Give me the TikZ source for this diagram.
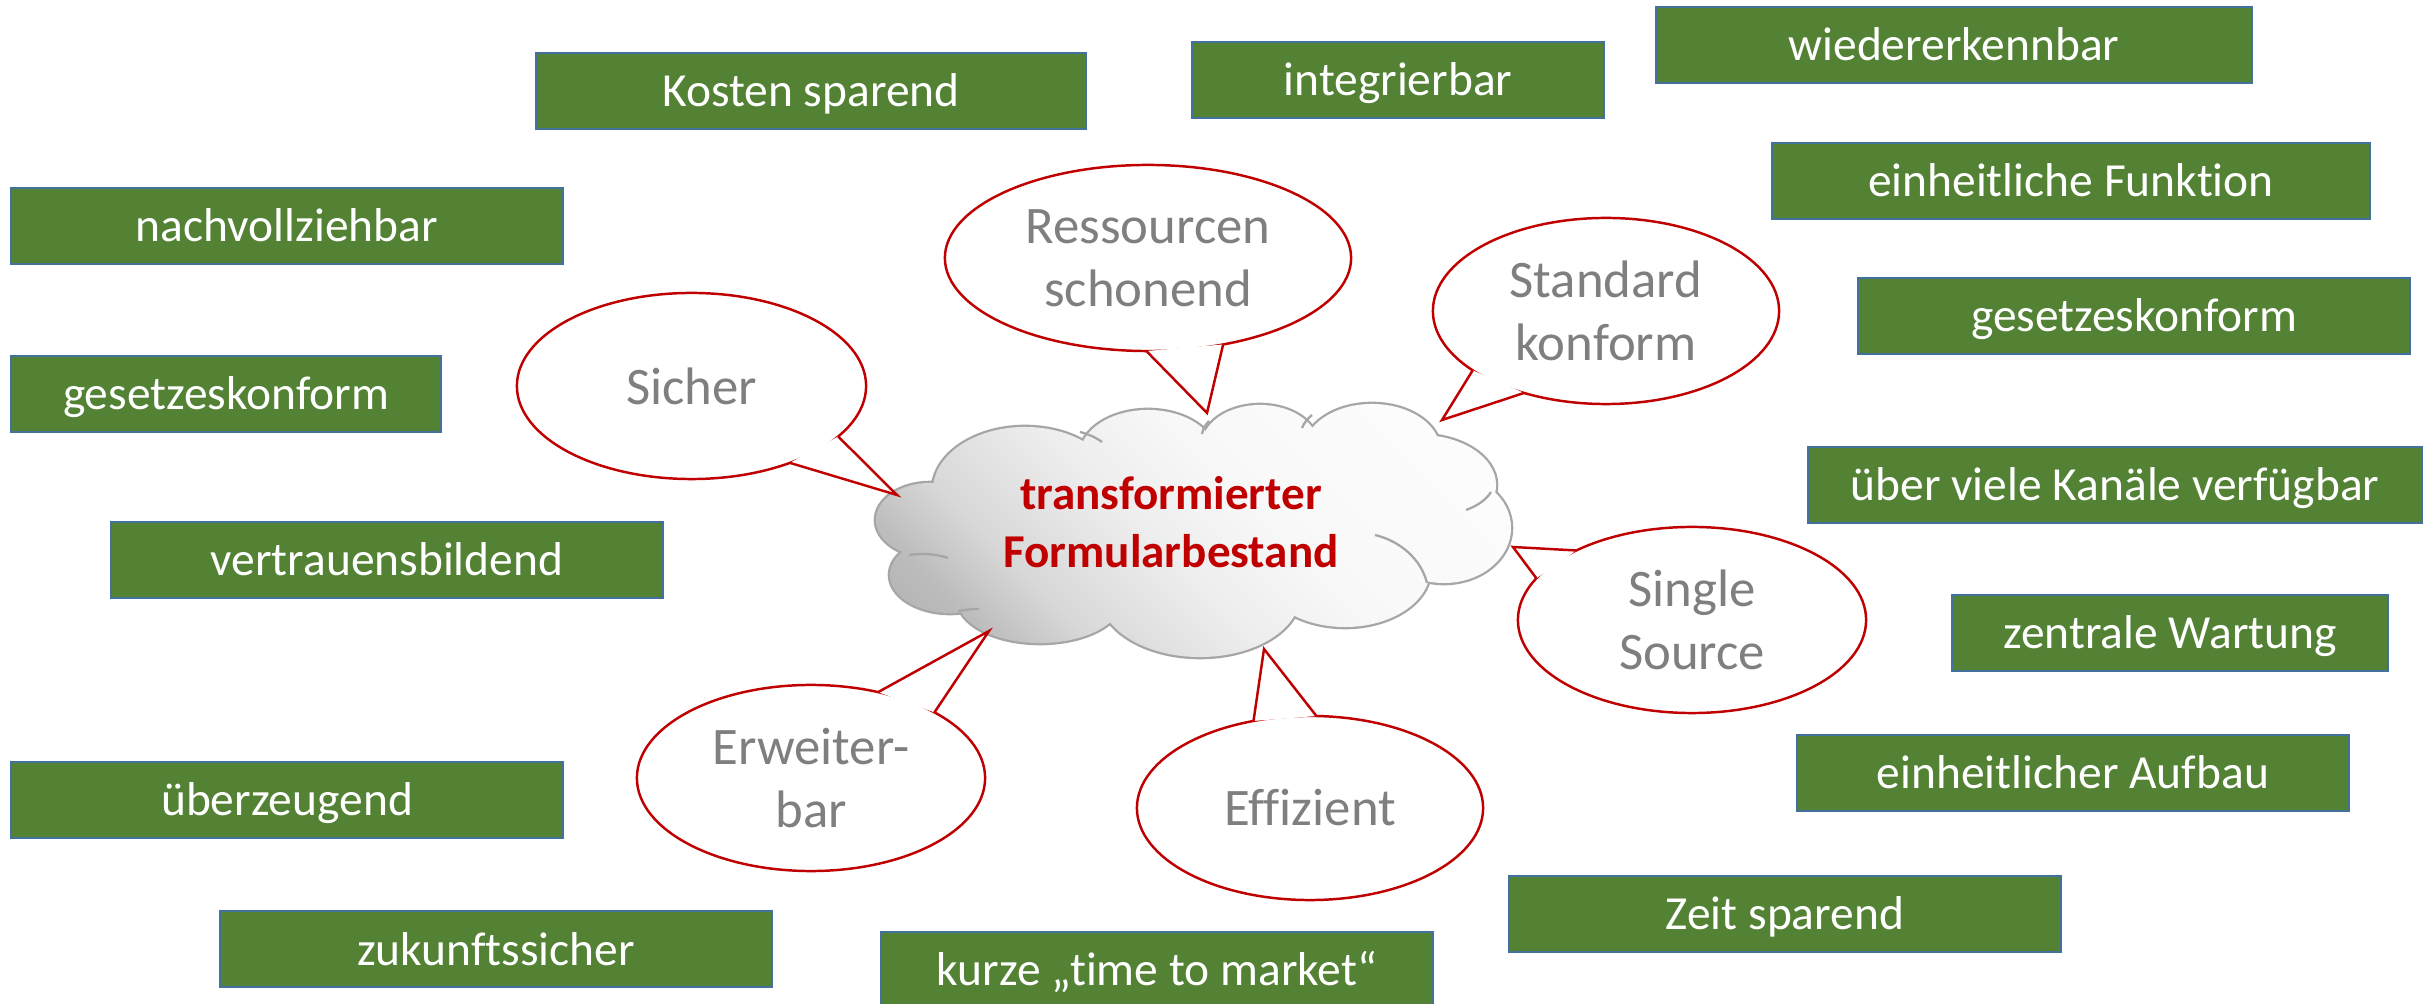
\documentclass[tikz,border=0pt]{standalone}
\usepackage{fontspec}
\setmainfont{Carlito}[Ligatures={TeX,NoCommon}]
\usetikzlibrary{shapes.geometric}
\definecolor{boxgreen}{HTML}{548235}
\definecolor{boxblue}{HTML}{41719C}
\definecolor{callred}{HTML}{C00000}
\definecolor{calltext}{HTML}{7F7F7F}
\definecolor{cloudline}{HTML}{A6A6A6}
\definecolor{cdarkest}{HTML}{ADADAD}
\definecolor{cdark}{HTML}{BCBCBC}
\definecolor{cmid}{HTML}{D8D8D8}
\definecolor{clight}{HTML}{EEEEEE}
\definecolor{cwhite}{HTML}{F8F8F8}
\definecolor{cwhitest}{HTML}{FCFCFC}
\pgfdeclareverticalshading{cloudshade}{100bp}{color(0bp)=(cdarkest); color(15bp)=(cdarkest); color(25bp)=(cdark); color(33bp)=(cmid); color(46.5bp)=(clight); color(57.5bp)=(cwhite); color(75bp)=(cwhitest); color(100bp)=(cwhitest)}
\begin{document}
\begin{tikzpicture}[x=0.01cm,y=-0.01cm,
  gbox/.style={rectangle, draw=boxblue, line width=0.6pt, fill=boxgreen, text=white,
    font=\fontsize{13.5pt}{16.5pt}\selectfont, minimum height=0.76cm, inner sep=0pt,
    text height=12.6pt, text depth=3.5pt},
  callout/.style={ellipse, draw=callred, line width=0.7pt, fill=white, text=calltext,
    font=\fontsize{15pt}{18pt}\selectfont, align=center, inner sep=0pt, outer sep=0pt,
    minimum width=3.48cm, minimum height=1.86cm},
  wedgefill/.style={fill=white},
  wedgeline/.style={draw=callred, line width=0.7pt, line join=miter},
  cloudhint/.style={draw=cloudline, line width=0.65pt},
  cloudtextstyle/.style={text=callred, font=\bfseries\fontsize{13.4pt}{16.5pt}\selectfont, align=center, inner sep=0pt}
]
\useasboundingbox (0,0) rectangle (2433,1004);
\clip (0,0) rectangle (2433,1004);
\fill[white] (0,0) rectangle (2433,1004);

% green boxes
\node[gbox, minimum width=5.50cm] (kosten)  at (811,91)   {Kosten sparend};
\node[gbox, minimum width=4.11cm] (integ)   at (1398,80)  {integrierbar};
\node[gbox, minimum width=5.96cm] (wieder)  at (1954,45)  {wiedererkennbar};
\node[gbox, minimum width=5.97cm] (einhF)   at (2071,181) {einheitliche Funktion};
\node[gbox, minimum width=5.52cm] (nachv)   at (287,226)  {nachvollziehbar};
\node[gbox, minimum width=5.51cm] (gesR)    at (2134,316) {gesetzeskonform};
\node[gbox, minimum width=4.30cm] (gesL)    at (226,394)  {gesetzeskonform};
\node[gbox, minimum width=6.13cm] (ueber)   at (2115,485) {über viele Kanäle verfügbar};
\node[gbox, minimum width=5.51cm] (vertr)   at (387,560)  {vertrauensbildend};
\node[gbox, minimum width=4.36cm] (zentr)   at (2170,633) {zentrale Wartung};
\node[gbox, minimum width=5.52cm] (einhA)   at (2073,773) {einheitlicher Aufbau};
\node[gbox, minimum width=5.52cm] (ueberz)  at (287,800)  {überzeugend};
\node[gbox, minimum width=5.52cm] (zeit)    at (1785,914) {Zeit sparend};
\node[gbox, minimum width=5.52cm] (zukunft) at (496,949)  {zukunftssicher};
\node[gbox, minimum width=5.51cm] (kurze)   at (1157,970) {kurze „time to market“};

% cloud: outline (double width, inner half covered by the shading)
\draw[cloudline, line width=1.3pt]
  (930,520) ellipse (0.54cm and 0.37cm)
  (950,575) ellipse (0.60cm and 0.38cm)
  (1040,600) ellipse (0.82cm and 0.43cm)
  (1200,595) ellipse (1.00cm and 0.62cm)
  (1345,570) ellipse (0.85cm and 0.57cm)
  (1444,528) ellipse (0.67cm and 0.55cm)
  (1420,485) ellipse (0.76cm and 0.50cm)
  (1372,450) ellipse (0.68cm and 0.46cm)
  (1260,445) ellipse (0.58cm and 0.40cm)
  (1148,455) ellipse (0.68cm and 0.45cm)
  (1025,490) ellipse (0.92cm and 0.63cm)
  (1190,530) ellipse (2.40cm and 0.95cm);
\shade[shading=cloudshade, shading angle=-45]
  (930,520) ellipse (0.54cm and 0.37cm)
  (950,575) ellipse (0.60cm and 0.38cm)
  (1040,600) ellipse (0.82cm and 0.43cm)
  (1200,595) ellipse (1.00cm and 0.62cm)
  (1345,570) ellipse (0.85cm and 0.57cm)
  (1444,528) ellipse (0.67cm and 0.55cm)
  (1420,485) ellipse (0.76cm and 0.50cm)
  (1372,450) ellipse (0.68cm and 0.46cm)
  (1260,445) ellipse (0.58cm and 0.40cm)
  (1148,455) ellipse (0.68cm and 0.45cm)
  (1025,490) ellipse (0.92cm and 0.63cm)
  (1190,530) ellipse (2.40cm and 0.95cm);
% small inner arcs of the cloud
\draw[cloudhint] (909,555) .. controls (924,553) and (936,554) .. (948,558);
\draw[cloudhint] (958,611) .. controls (964,610) and (971,609) .. (979,609);
\draw[cloudhint] (1375,535) .. controls (1400,541) and (1421,559) .. (1427,583);
\draw[cloudhint] (1466,510) .. controls (1477,506) and (1486,500) .. (1491,492);
\draw[cloudhint] (1080,432) .. controls (1088,434) and (1095,437) .. (1102,442);
\draw[cloudhint] (1202,434) .. controls (1203,429) and (1205,425) .. (1209,421);
\draw[cloudhint] (1302,428) .. controls (1304,423) and (1307,419) .. (1312,415);
\node[cloudtextstyle] (cloudtext) at (1171,522) {transformierter\\Formularbestand};

% callouts
\coordinate (tipR) at (1207,413);
\coordinate (tipSt) at (1442,420);
\coordinate (tipSi) at (897,495);
\coordinate (tipSS) at (1513,547);
\coordinate (tipE) at (989,631);
\coordinate (tipEf) at (1264,649);

\node[callout, minimum width=4.06cm] (ress) at (1148,258) {Ressourcen\\schonend};
\fill[wedgefill] (ress.-91.2) -- (tipR) -- (ress.-49.6) -- cycle;
\draw[wedgeline] (ress.-91.2) -- (tipR) -- (ress.-49.6);

\node[callout, minimum width=3.46cm] (stand) at (1606,311) {Standard\\konform};
\fill[wedgefill] (stand.204.4) -- (tipSt) -- (stand.225.4) -- cycle;
\draw[wedgeline] (stand.204.4) -- (tipSt) -- (stand.225.4);

\node[callout, minimum width=3.49cm] (sicher) at (691.5,386) {Sicher};
\fill[wedgefill] (sicher.-19.6) -- (tipSi) -- (sicher.-38.6) -- cycle;
\draw[wedgeline] (sicher.-19.6) -- (tipSi) -- (sicher.-38.6);

\node[callout] (single) at (1692,620) {Single\\Source};
\fill[wedgefill] (single.149) -- (tipSS) -- (single.165.3) -- cycle;
\draw[wedgeline] (single.149) -- (tipSS) -- (single.165.3);

\node[callout] (erw) at (811,778) {Erweiter-\\bar};
\fill[wedgefill] (erw.52.5) -- (tipE) -- (erw.28.6) -- cycle;
\draw[wedgeline] (erw.52.5) -- (tipE) -- (erw.28.6);

\node[callout, minimum width=3.46cm, minimum height=1.84cm] (eff) at (1310,808) {Effizient};
\fill[wedgefill] (eff.123.7) -- (tipEf) -- (eff.86.3) -- cycle;
\draw[wedgeline] (eff.123.7) -- (tipEf) -- (eff.86.3);
\end{tikzpicture}
\end{document}
